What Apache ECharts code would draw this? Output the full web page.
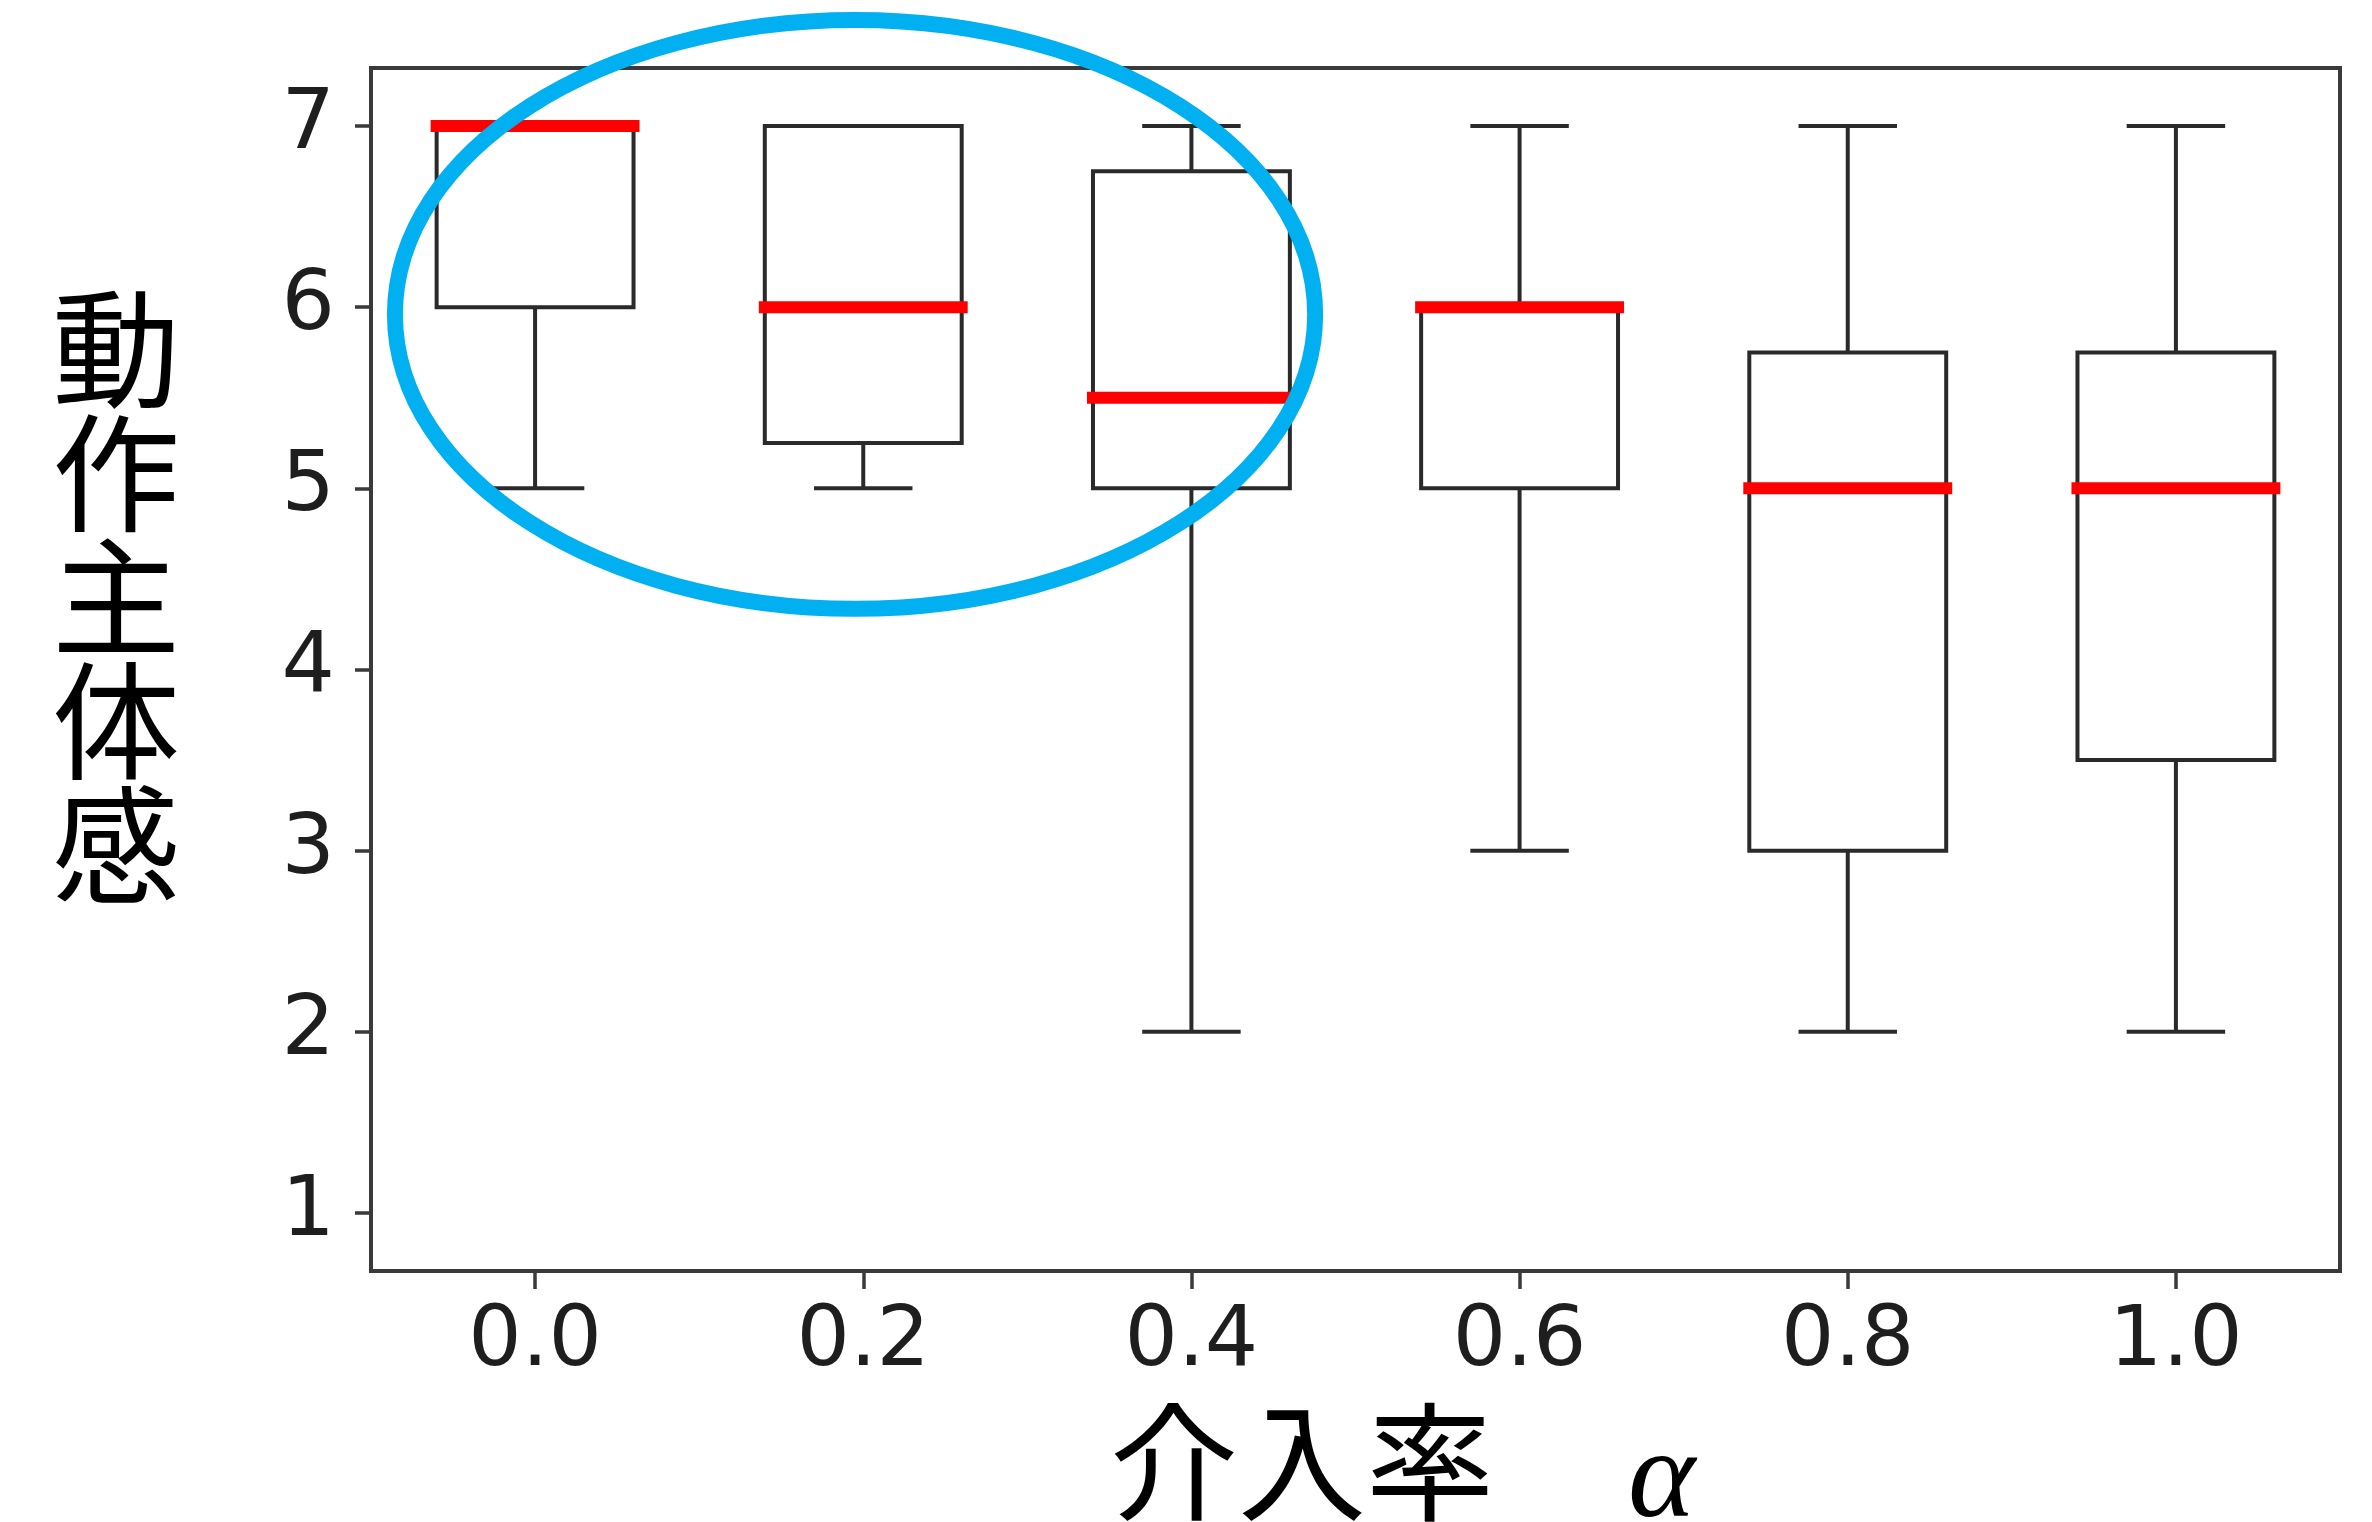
<!DOCTYPE html>
<html>
<head>
<meta charset="utf-8">
<script src="https://cdn.jsdelivr.net/npm/echarts@6/dist/echarts.min.js"></script>
<style>
html,body{margin:0;padding:0;background:#fff;}
#chart{width:2372px;height:1522px;}
</style>
</head>
<body>
<div id="chart"></div>
<script>
// ---- data ----
const categories = ['0.0', '0.2', '0.4', '0.6', '0.8', '1.0'];
const whiskerLow  = [5, 5, 2, 3, 2, 2];
const q1          = [6, 5.25, 5, 5, 3, 3.5];
const medians     = [7, 6, 5.5, 6, 5, 5];
const q3          = [7, 7, 6.75, 6, 5.75, 5.75];
const whiskerHigh = [7, 7, 7, 7, 7, 7];
const yTicks = [1, 2, 3, 4, 5, 6, 7];
const yLabel = '動作主体感';
const xLabelText = '介入率';
const xLabelSymbol = 'α';

const boxData = categories.map((c, i) => [i, whiskerLow[i], q1[i], medians[i], q3[i], whiskerHigh[i]]);

const chart = echarts.init(document.getElementById('chart'), null, {renderer: 'canvas'});
const lineColor = '#2a2a2a';
const axisColor = '#3a3a3a';

function renderBox(params, api) {
  const i = api.value(0);
  const band = api.size([1, 0])[0];
  const x = api.coord([i, 0])[0];
  const yLo = api.coord([i, api.value(1)])[1];
  const yQ1 = api.coord([i, api.value(2)])[1];
  const yMed = api.coord([i, api.value(3)])[1];
  const yQ3 = api.coord([i, api.value(4)])[1];
  const yHi = api.coord([i, api.value(5)])[1];
  const bw = band * 0.6, cw = band * 0.3;
  const ls = {stroke: lineColor, lineWidth: 4, fill: null};
  return {
    type: 'group',
    children: [
      {type: 'line', shape: {x1: x, y1: yQ1, x2: x, y2: yLo}, style: ls},
      {type: 'line', shape: {x1: x - cw / 2, y1: yLo, x2: x + cw / 2, y2: yLo}, style: ls},
      {type: 'line', shape: {x1: x, y1: yQ3, x2: x, y2: yHi}, style: ls},
      {type: 'line', shape: {x1: x - cw / 2, y1: yHi, x2: x + cw / 2, y2: yHi}, style: ls},
      {type: 'rect', shape: {x: x - bw / 2, y: yQ3, width: bw, height: yQ1 - yQ3},
        style: {stroke: lineColor, lineWidth: 4, fill: 'rgba(0,0,0,0)'}},
      {type: 'line', shape: {x1: x - bw / 2, y1: yMed, x2: x + bw / 2, y2: yMed},
        style: {stroke: '#ff0000', lineWidth: 12, lineCap: 'square'}}
    ]
  };
}

const option = {
  animation: false,
  backgroundColor: '#ffffff',
  grid: {
    left: 371, right: 32, top: 68, bottom: 251,
    show: true, borderColor: axisColor, borderWidth: 4, backgroundColor: 'transparent'
  },
  xAxis: {
    type: 'category',
    data: categories,
    boundaryGap: true,
    axisLine: {show: true, lineStyle: {color: axisColor, width: 4}},
    axisTick: {show: true, alignWithLabel: true, length: 18, lineStyle: {color: axisColor, width: 3.5}},
    axisLabel: {margin: 30, fontFamily: 'DejaVu Sans', fontSize: 84, color: '#1e1e1e'},
    splitLine: {show: false}
  },
  yAxis: {
    type: 'value',
    min: 0.68, max: 7.32,
    axisLine: {show: true, lineStyle: {color: axisColor, width: 4}},
    axisTick: {show: true, length: 16, customValues: yTicks, lineStyle: {color: axisColor, width: 3.5}},
    axisLabel: {margin: 36, fontFamily: 'DejaVu Sans', fontSize: 84, color: '#1e1e1e', customValues: yTicks},
    splitLine: {show: false}
  },
  series: [{
    type: 'custom',
    renderItem: renderBox,
    encode: {x: 0, y: [1, 2, 3, 4, 5]},
    data: boxData,
    z: 5
  }]
};
chart.setOption(option);

// annotation overlay positioned relative to the axes
const p00 = chart.convertToPixel({xAxisIndex: 0, yAxisIndex: 0}, [0, 6]);
const p11 = chart.convertToPixel({xAxisIndex: 0, yAxisIndex: 0}, [1, 5]);
const dx = p11[0] - p00[0];
const dy = p11[1] - p00[1];
const ellipseCx = p00[0] + 0.975 * dx;
const ellipseCy = p00[1] + 0.04 * dy;

chart.setOption({
  graphic: [
    {
      type: 'ellipse',
      shape: {cx: ellipseCx, cy: ellipseCy, rx: 1.402 * dx, ry: 1.625 * dy},
      style: {stroke: '#00b0f0', lineWidth: 16, fill: null},
      z: 100
    },
    {
      type: 'text',
      x: 116, y: 597,
      style: {
        text: yLabel.split('').join('\n'),
        font: '128px "Noto Sans CJK JP"',
        fill: '#000',
        align: 'center',
        verticalAlign: 'middle',
        lineHeight: 124
      }
    },
    {
      type: 'text',
      x: 1110, y: 1462,
      style: {
        text: xLabelText,
        font: '128px "Noto Sans CJK JP"',
        fill: '#000',
        align: 'left',
        verticalAlign: 'middle'
      }
    },
    {
      type: 'text',
      x: 1628, y: 1482,
      style: {
        text: xLabelSymbol,
        font: 'italic 128px "Liberation Serif"',
        fill: '#000',
        align: 'left',
        verticalAlign: 'middle'
      }
    }
  ]
});
</script>
</body>
</html>
